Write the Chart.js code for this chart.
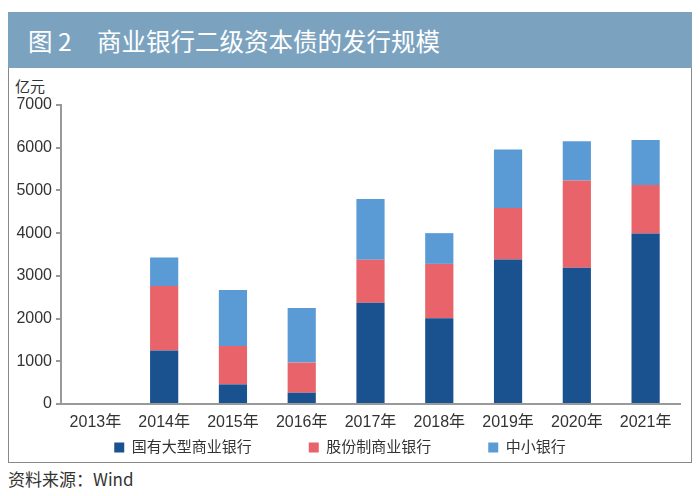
<!DOCTYPE html>
<html><head><meta charset="utf-8">
<script src="https://cdn.jsdelivr.net/npm/chart.js@4"></script>
<style>
html,body{margin:0;padding:0;background:#fff;width:700px;height:496px;overflow:hidden;font-family:"Liberation Sans","Noto Sans CJK SC",sans-serif;}
#bar{position:absolute;left:8px;top:12px;width:684px;height:56px;background:#7ba3c0;}
#ttl1{position:absolute;left:28px;top:25px;color:#fff;font-size:24.5px;font-family:"Noto Sans CJK SC",sans-serif;line-height:32px;white-space:pre;}
#ttl2{position:absolute;left:97px;top:25px;color:#fff;font-size:24.5px;font-family:"Noto Sans CJK SC",sans-serif;line-height:32px;white-space:pre;}
#frame{position:absolute;left:8px;top:68px;width:682px;height:394px;border:1px solid #888;border-top:none;}
#unit{position:absolute;left:15px;top:75px;font-size:15px;color:#333;font-family:"Noto Sans CJK SC",sans-serif;}
#src{position:absolute;left:8px;top:466px;font-size:17px;color:#333;font-family:"Noto Sans CJK SC",sans-serif;}
#wrap{position:absolute;left:0;top:0;width:700px;height:496px;}
</style></head><body>
<div id="bar"></div><div id="ttl1">图 2</div><div id="ttl2">商业银行二级资本债的发行规模</div>
<div id="frame"></div>
<div id="unit">亿元</div>
<div id="src">资料来源：Wind</div>
<div id="wrap"><canvas id="c" width="700" height="496"></canvas></div>
<script>
const categories = ["2013年","2014年","2015年","2016年","2017年","2018年","2019年","2020年","2021年"];
const seriesNames = ["国有大型商业银行","股份制商业银行","中小银行"];
const bigBanks = [0, 1250, 460, 265, 2370, 2010, 3385, 3190, 3990];
const jointStock = [0, 1510, 900, 705, 1010, 1270, 1205, 2040, 1140];
const smallBanks = [0, 670, 1310, 1280, 1420, 720, 1370, 920, 1050];
const yTicks = [0,1000,2000,3000,4000,5000,6000,7000];
const colors = ["#1a5290","#e8636a","#5b9bd5"];

const font = '"Liberation Sans","Noto Sans CJK SC",sans-serif';
new Chart(document.getElementById('c'), {
  type: 'bar',
  data: {
    labels: categories,
    datasets: [
      {label: seriesNames[0], data: bigBanks, backgroundColor: colors[0]},
      {label: seriesNames[1], data: jointStock, backgroundColor: colors[1]},
      {label: seriesNames[2], data: smallBanks, backgroundColor: colors[2]}
    ]
  },
  options: {
    responsive: false,
    animation: false,
    devicePixelRatio: 1,
    datasets: {bar: {barPercentage: 0.41, categoryPercentage: 1}},
    layout: {padding: {left: 0, right: 20, top: 105, bottom: 31}},
    plugins: {
      tooltip: {enabled: false},
      legend: {
        position: 'bottom',
        labels: {
          boxWidth: 10, boxHeight: 10, padding: 12, color: '#333', font: {size: 15, family: font},
          generateLabels: chart => {
            const items = Chart.defaults.plugins.legend.labels.generateLabels(chart);
            items.forEach((it, i) => { if (i < items.length - 1) it.text = it.text + '\u3000\u3000\u3000'; });
            return items;
          }
        }
      }
    },
    scales: {
      x: {
        stacked: true,
        grid: {display: false, drawTicks: false},
        border: {color: '#999', width: 2},
        ticks: {color: '#333', font: {size: 16, family: font}, padding: 9, maxRotation: 0},
        afterFit: s => { s.height = 24; }
      },
      y: {
        stacked: true,
        min: 0, max: 7000,
        afterBuildTicks: s => { s.ticks = yTicks.map(v => ({value: v})); },
        grid: {drawOnChartArea: false, drawTicks: true, tickLength: 5, color: '#999', lineWidth: 2},
        border: {color: '#999', width: 2},
        ticks: {color: '#333', font: {size: 16, family: font}, padding: 4, callback: v => String(v)},
        afterFit: s => { s.width = 61; }
      }
    }
  }
});
</script>
</body></html>
